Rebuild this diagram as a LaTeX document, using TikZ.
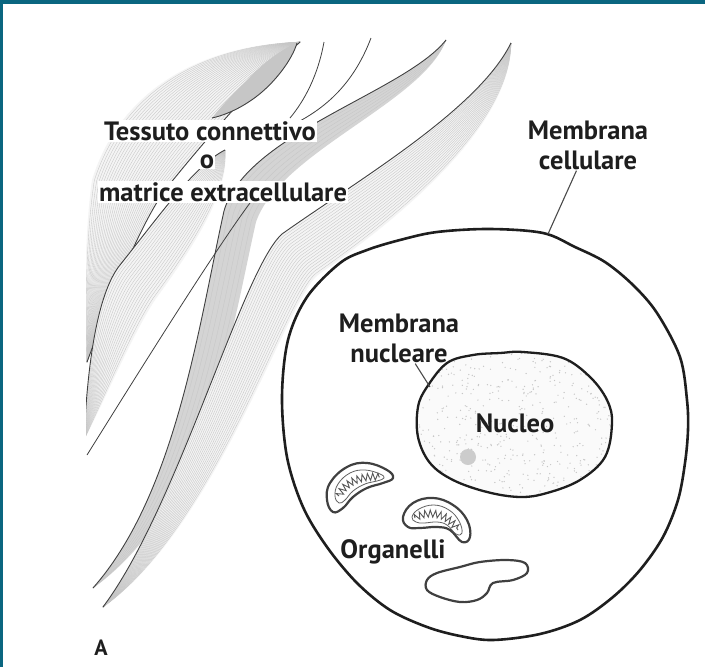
\documentclass[tikz,border=0pt]{standalone}
\usepackage{fontspec}
\setmainfont{PT Sans}
\usetikzlibrary{calc,decorations.pathmorphing}

\definecolor{frameteal}{RGB}{10,102,128}
\definecolor{ink}{RGB}{30,30,30}

\tikzset{
  fibfill/.style={fill=gray!9},
  fibgray/.style={fill=gray!34},
  fibdark/.style={fill=gray!45},
  fibline/.style={draw=gray!45, line width=0.35pt},
  fibedge/.style={draw=gray!50!black, line width=0.9pt},
  thinfib/.style={draw=gray!50!black, line width=0.8pt},
  membrane/.style={draw=ink, line width=2.6pt, line join=round},
  organelle/.style={draw=ink!85, line width=2.2pt, line join=round},
  innerwall/.style={draw=ink!70, line width=0.8pt},
  cristae/.style={draw=ink!75, line width=0.9pt,
    decorate, decoration={zigzag, amplitude=3.5pt, segment length=5pt}},
  pointer/.style={draw=ink!80, line width=1.1pt},
  lab/.style={text=ink, font=\bfseries\fontsize{26.5}{30}\selectfont, inner sep=1pt},
}

% a fibre band: two edges sharing both tips, each made of two cubic pieces,
% filled and streaked by curves interpolated between the edges
\newcommand\bandtips[3]{\coordinate (#1s) at #2; \coordinate (#1e) at #3;}
\newcommand\bandedge[7]{%
  \coordinate (#1#21) at #3; \coordinate (#1#22) at #4; \coordinate (#1#2m) at #5;
  \coordinate (#1#23) at #6; \coordinate (#1#24) at #7;}
\newcommand\fiberband[3][fibfill]{%
  \path[#1] (#2s) .. controls (#2a1) and (#2a2) .. (#2am) .. controls (#2a3) and (#2a4) .. (#2e)
     .. controls (#2b4) and (#2b3) .. (#2bm) .. controls (#2b2) and (#2b1) .. (#2s) -- cycle;
  \foreach \i in {1,...,#3}{%
    \pgfmathsetmacro\fibt{\i/(#3+1)}%
    \draw[fibline] (#2s) .. controls ($(#2a1)!\fibt!(#2b1)$) and ($(#2a2)!\fibt!(#2b2)$) .. ($(#2am)!\fibt!(#2bm)$)
       .. controls ($(#2a3)!\fibt!(#2b3)$) and ($(#2a4)!\fibt!(#2b4)$) .. (#2e);
  }%
  \draw[fibedge] (#2s) .. controls (#2b1) and (#2b2) .. (#2bm) .. controls (#2b3) and (#2b4) .. (#2e);
}

\begin{document}
\begin{tikzpicture}[x=1pt,y=-1pt]
\useasboundingbox (0,0) rectangle (705,667);
\fill[white] (0,0) rectangle (705,667);
\fill[frameteal] (0,0) rectangle (705,4);
\fill[frameteal] (0,0) rectangle (3,667);

% ---------- connective tissue fibres ----------
\begin{scope}
\clip (86,0) rectangle (705,667);

% broad upper-left fibre
\bandtips{A}{(300,42)}{(87,362)}
\bandedge{A}{a}{(200,45)}{(120,90)}{(92,180)}{(85,230)}{(84,300)}
\bandedge{A}{b}{(270,70)}{(225,115)}{(165,190)}{(140,225)}{(110,300)}
\fiberband{A}{30}

% darker strand along its lower side
\bandtips{W}{(297,43)}{(212,118)}
\bandedge{W}{a}{(283,48)}{(262,64)}{(250,77)}{(238,89)}{(222,105)}
\bandedge{W}{b}{(292,60)}{(276,80)}{(262,92)}{(248,104)}{(230,114)}
\fiberband[fibdark]{W}{3}

% wide middle-left fibre
\bandtips{B}{(225,150)}{(84,440)}
\bandedge{B}{a}{(230,190)}{(195,245)}{(155,300)}{(132,335)}{(105,400)}
\bandedge{B}{b}{(195,165)}{(160,215)}{(120,265)}{(100,290)}{(88,350)}
\fiberband{B}{18}

% long grey fibre
\bandtips{F}{(446,40)}{(93,588)}
\bandedge{F}{a}{(424,102)}{(280,152)}{(256,222)}{(231,332)}{(207,507)}
\bandedge{F}{b}{(405,92)}{(246,134)}{(224,211)}{(199,324)}{(176,494)}
\fiberband[fibgray]{F}{6}

% long hatched fibre beside the cell
\bandtips{E}{(511,43)}{(103,607)}
\bandedge{E}{a}{(512,128)}{(394,222)}{(318,275)}{(288,297)}{(216,529)}
\bandedge{E}{b}{(478,110)}{(358,180)}{(282,234)}{(242,270)}{(178,507)}
\fiberband{E}{20}

% single thin fibres
\draw[thinfib] (324,42) .. controls (318,75) and (305,100) .. (290,118);
\draw[thinfib] (371,38) .. controls (355,80) and (330,105) .. (298,122);
\draw[thinfib] (250,203) .. controls (215,250) and (140,370) .. (87,455);
\end{scope}

% ---------- the cell ----------
\path[membrane, fill=white] plot[smooth cycle, tension=0.55] coordinates {
  (437,232) (490,229) (543,233) (575,247) (605,262) (633,285) (657,313) (680,357)
  (687,400) (688,430) (685,463) (678,500) (663,537) (640,570) (613,597) (580,620)
  (540,634) (493,640) (460,636) (427,627) (390,610) (357,583) (327,547) (303,507)
  (287,457) (282,397) (288,340) (307,297) (340,263) (367,250) (400,240)};
\coordinate (cellpt) at (548,234);

% nucleus with stippled content
\def\nucleuspath{plot[smooth cycle, tension=0.6] coordinates {
  (523,352) (563,358) (590,377) (607,400) (612,423) (605,457) (580,480) (547,493)
  (520,497) (487,492) (453,480) (430,463) (418,437) (418,407) (427,387) (447,363)
  (473,355) (500,353)}}
\begin{scope}
\clip \nucleuspath;
\fill[gray!4] (400,340) rectangle (630,510);
\pgfmathsetseed{11}
\foreach \k in {1,...,520}{
  \fill[gray!45] ($(515,425)+(rand*100,rand*75)$) circle (0.7pt);
}
\fill[gray!40] (468,457) circle (8pt);
\end{scope}
\draw[membrane, line width=2.3pt] \nucleuspath;
\coordinate (nucpt) at (430,387);

% mitochondria
\begin{scope}[shift={(358,487)}]
  \draw[organelle] plot[smooth cycle, tension=0.7] coordinates {
    (-28,-4) (-11,-20) (9,-24) (29,-17) (35,-9) (25,-4) (9,1) (-5,10) (-15,21) (-25,25) (-31,13)};
  \draw[innerwall] plot[smooth cycle, tension=0.7] coordinates {
    (-20,-3) (-8,-14) (7,-17) (22,-13) (26,-9) (19,-6) (7,-3) (-5,4) (-13,13) (-19,16) (-23,9)};
  \draw[cristae] (-19,9) .. controls (-14,-4) and (2,-12) .. (22,-10);
\end{scope}
\begin{scope}[shift={(437,522)}]
  \draw[organelle] plot[smooth cycle, tension=0.7] coordinates {
    (-34,-5) (-24,-19) (-4,-24) (16,-17) (30,-2) (33,15) (25,20) (13,8) (0,5) (-17,6) (-29,5)};
  \draw[innerwall] plot[smooth cycle, tension=0.7] coordinates {
    (-25,-5) (-18,-13) (-3,-17) (12,-12) (22,-1) (25,11) (19,12) (10,3) (0,0) (-13,1) (-21,0)};
  \draw[cristae] (-22,-4) .. controls (-10,-12) and (10,-10) .. (21,8);
\end{scope}

% flattened organelle
\draw[organelle] plot[smooth cycle, tension=0.6] coordinates {
  (427,580) (437,573) (460,567) (480,562) (507,560) (525,563) (527,573) (513,580)
  (493,583) (487,593) (477,600) (460,602) (440,597) (427,590)};

% ---------- labels ----------
\node[lab, fill=white] (tc) at (210,131) {Tessuto connettivo};
\node[lab, fill=white, inner sep=0.5pt] (oo) at (207,162) {o};
\node[lab, fill=white] (me) at (223,192) {matrice extracellulare};
\node[lab, align=center] (mc) at (588,145) {Membrana\\cellulare};
\node[lab, align=center] (mn) at (399,338) {Membrana\\nucleare};
\node[lab] (nu) at (515,423) {Nucleo};
\node[lab] (org) at (393,552) {Organelli};
\node[lab, font=\bfseries\fontsize{22}{26}\selectfont] (la) at (101,648) {A};

\draw[pointer] (mc) -- (cellpt);
\draw[pointer] (mn) -- (nucpt);
\end{tikzpicture}
\end{document}
